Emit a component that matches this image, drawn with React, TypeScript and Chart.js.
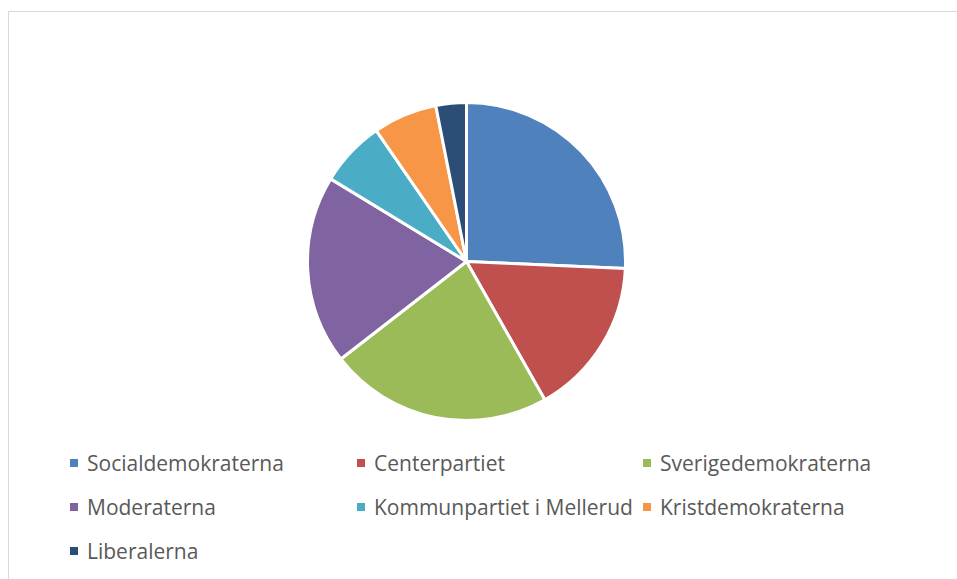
import React, { useEffect, useRef } from "react";
import { Chart, registerables } from "chart.js";

Chart.register(...registerables);

const categories = [
  "Socialdemokraterna",
  "Centerpartiet",
  "Sverigedemokraterna",
  "Moderaterna",
  "Kommunpartiet i Mellerud",
  "Kristdemokraterna",
  "Liberalerna",
];
const values = [25.7, 16.1, 22.7, 19.2, 6.7, 6.5, 3.1];
const colors = ["#4F81BD", "#C0504D", "#9BBB59", "#8064A2", "#4BACC6", "#F79646", "#2C4D75"];

const legendCols = [87, 374, 660];
const legendRows = [463, 507, 551];

export default function App() {
  const ref = useRef<HTMLCanvasElement | null>(null);
  useEffect(() => {
    if (!ref.current) return;
    const chart = new Chart(ref.current, {
      type: "pie",
      data: {
        labels: categories,
        datasets: [
          {
            data: values,
            backgroundColor: colors,
            borderColor: "#ffffff",
            borderWidth: 3,
          },
        ],
      },
      options: {
        animation: false,
        responsive: false,
        maintainAspectRatio: false,
        layout: { padding: 0 },
        plugins: { legend: { display: false }, tooltip: { enabled: false } },
      },
    });
    return () => chart.destroy();
  }, []);

  return (
    <div
      style={{
        position: "fixed",
        left: 0,
        top: 0,
        width: 957,
        height: 579,
        overflow: "hidden",
        background: "#ffffff",
      }}
    >
      <div
        style={{
          position: "absolute",
          left: 8,
          top: 11,
          width: 990,
          height: 620,
          border: "1px solid #D9D9D9",
          boxSizing: "border-box",
        }}
      />
      <canvas
        ref={ref}
        width={321}
        height={321}
        style={{ position: "absolute", left: 306, top: 101, width: 321, height: 321 }}
      />
      {categories.map((c, i) => {
        const col = i % 3;
        const row = Math.floor(i / 3);
        return (
          <div
            key={c}
            style={{
              position: "absolute",
              left: legendCols[col] - 17,
              top: legendRows[row] - 14,
              height: 28,
              display: "flex",
              alignItems: "center",
              fontFamily: "'Open Sans', sans-serif",
              fontSize: 21,
              color: "#595959",
              whiteSpace: "nowrap",
            }}
          >
            <span
              style={{
                display: "inline-block",
                width: 8,
                height: 8,
                background: colors[i],
                marginRight: 9,
              }}
            />
            <span>{c}</span>
          </div>
        );
      })}
    </div>
  );
}
